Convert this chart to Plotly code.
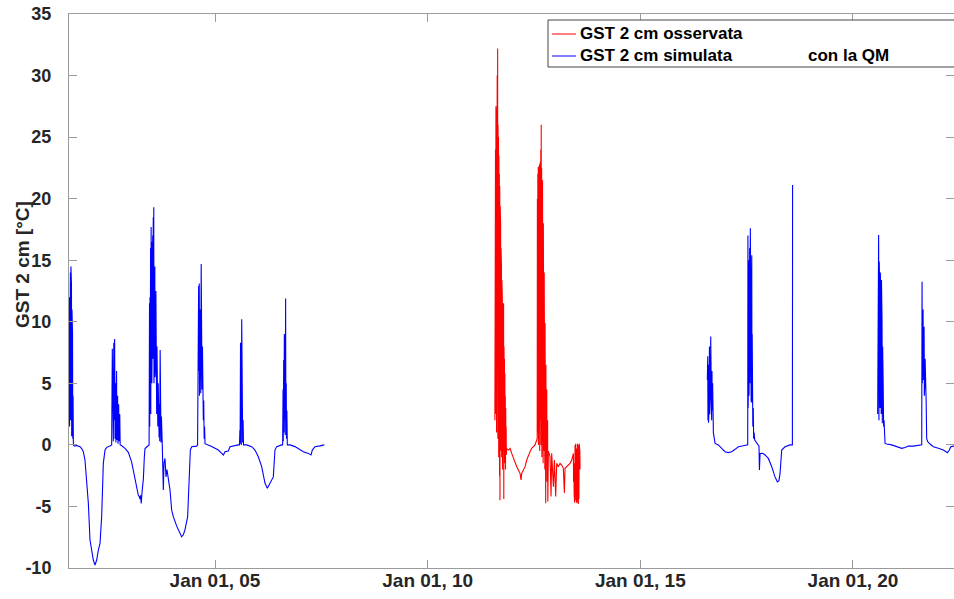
import pandas as pd
import plotly.graph_objects as go

# ---------------- data (hours after midnight of Jan 01, value in °C) ----------------
blue1_h = [1.55, 1.56, 1.565, 1.575, 1.58, 1.587, 1.593, 1.60, 1.605, 1.612, 1.618, 1.625, 1.63, 1.637, 1.643, 1.65, 1.656, 1.663, 1.67,
           1.70, 1.75, 1.79, 1.826, 1.865, 1.904, 1.943, 1.982, 2.022, 2.061, 2.10, 2.139, 2.178, 2.218, 2.257, 2.296, 2.335, 2.374, 2.414, 2.453, 2.531,
           2.57, 2.585, 2.592, 2.60, 2.61, 2.62, 2.63, 2.64, 2.65, 2.66, 2.67, 2.685, 2.695, 2.71, 2.72, 2.735, 2.745, 2.76, 2.77, 2.80,
           2.884, 2.962, 3.04, 3.119, 3.158, 3.197, 3.22, 3.237, 3.25, 3.265, 3.29, 3.315, 3.338, 3.354, 3.40, 3.45,
           3.46, 3.465, 3.472, 3.478, 3.485, 3.49, 3.498, 3.503, 3.51, 3.515, 3.522, 3.527, 3.535, 3.54, 3.548, 3.553, 3.56, 3.565,
           3.572, 3.578, 3.585, 3.59, 3.598, 3.603, 3.61, 3.615, 3.623, 3.628, 3.636, 3.641, 3.65, 3.655, 3.665, 3.67, 3.68, 3.685,
           3.695, 3.70, 3.71, 3.715, 3.725, 3.73, 3.74, 3.75, 3.76,
           3.785, 3.80, 3.824, 3.848, 3.87, 3.90, 3.942, 3.981, 4.02, 4.099, 4.177, 4.216, 4.255, 4.294, 4.357, 4.388, 4.42, 4.451, 4.569,
           4.59, 4.60, 4.605, 4.615, 4.62, 4.63, 4.635, 4.645, 4.65, 4.66, 4.665, 4.675, 4.68, 4.69, 4.695, 4.705, 4.71, 4.72, 4.725,
           4.735, 4.745, 4.755, 4.765,
           4.843, 4.921, 5.0, 5.078, 5.157, 5.196, 5.235, 5.313, 5.353, 5.45, 5.548,
           5.575, 5.585, 5.59, 5.60, 5.605, 5.613, 5.618, 5.628, 5.633, 5.643, 5.65, 5.66, 5.67,
           5.744, 5.862, 5.94, 6.018, 6.097, 6.175, 6.23, 6.293, 6.371, 6.41, 6.45, 6.567,
           6.59, 6.60, 6.605, 6.615, 6.62, 6.63, 6.635, 6.645, 6.65, 6.66, 6.665, 6.675, 6.68, 6.69, 6.70,
           6.763, 6.88, 6.998, 7.076, 7.194, 7.257, 7.288, 7.35, 7.468, 7.57]
blue1_v = [3.0, 8.5, 2.2, 12.0, 1.5, 13.5, 5.0, 14.0, 2.0, 14.5, 8.0, 13.0, 0.7, 11.0, 3.0, 9.0, 0.5, 4.0, 0.0,
           -0.1, -0.05, -0.1, -0.14, -0.3, -0.55, -1.23, -3.1, -4.75, -7.73, -8.54, -9.35, -9.76, -9.35, -8.54, -8.0, -5.83, -1.5, -0.42, -0.2, -0.1,
           0.0, 7.8, 1.0, 7.5, 0.3, 8.3, 2.0, 8.6, 0.5, 5.0, 0.2, 6.0, 0.4, 4.0, 0.1, 3.3, 0.3, 2.5, 0.0, -0.05,
           -0.28, -0.6, -1.4, -2.8, -3.6, -4.1, -4.2, -4.4, -4.1, -4.75, -3.6, -2.8, -1.0, -0.3, -0.15, 0.0,
           11.5, 1.5, 12.0, 4.0, 16.0, 2.5, 17.7, 8.0, 16.5, 5.0, 15.0, 10.4, 17.0, 7.0, 18.5, 12.0, 19.3, 5.0,
           16.0, 9.0, 14.5, 5.5, 13.0, 6.3, 12.5, 3.0, 9.6, 2.5, 8.0, 2.0, 7.7, 1.5, 5.0, 0.8, 4.0, 0.6,
           3.3, 0.3, 7.7, 0.4, 2.5, 0.2, 2.3, 0.0, 0.0,
           -3.67, -1.5, -1.1, -2.6, -2.0, -2.6, -3.67, -5.3, -5.83, -6.6, -7.2, -7.46, -7.3, -6.9, -5.83, -3.1, -0.42, -0.15, -0.1,
           0.0, 9.0, 4.5, 12.9, 6.0, 13.1, 4.0, 11.0, 5.5, 8.3, 4.2, 14.7, 6.0, 12.0, 4.5, 8.0, 3.5, 5.5, 2.0,
           3.6, 0.5, 1.5, 0.1,
           0.0, -0.14, -0.28, -0.42, -0.69, -0.82, -0.55, -0.5, -0.15, -0.05, 0.0,
           0.0, 1.2, 0.1, 8.3, 0.5, 1.2, 0.0, 10.2, 3.0, 4.5, 0.2, 2.0, 0.0,
           0.0, -0.14, -0.42, -0.96, -1.77, -3.1, -3.53, -3.1, -2.6, -0.42, -0.14, 0.0,
           0.0, 4.5, 0.3, 6.9, 1.0, 9.0, 2.0, 8.8, 0.8, 11.9, 3.0, 5.0, 0.5, 2.8, 0.0,
           0.0, -0.14, -0.42, -0.55, -0.69, -0.82, -0.42, -0.15, -0.08, 0.0]

red_h = [11.580, 11.585, 11.590, 11.595, 11.600, 11.605, 11.610, 11.615, 11.620, 11.625, 11.630, 11.635, 11.640, 11.645,
         11.650, 11.655, 11.660, 11.665, 11.670, 11.675, 11.680, 11.685, 11.690, 11.695, 11.700, 11.705, 11.710, 11.715,
         11.720, 11.725, 11.730, 11.735, 11.740, 11.745, 11.750, 11.755, 11.760, 11.765, 11.770, 11.775, 11.780, 11.785,
         11.790, 11.795, 11.800, 11.805, 11.810, 11.815, 11.820, 11.825, 11.830, 11.835, 11.840, 11.845, 11.850, 11.858,
         11.898, 11.937, 11.976, 12.015, 12.054, 12.094, 12.133, 12.172, 12.195, 12.211, 12.25, 12.29, 12.329, 12.368,
         12.407, 12.446, 12.485, 12.525, 12.564,
         12.575, 12.580, 12.585, 12.590, 12.595, 12.600, 12.605, 12.610, 12.615, 12.620, 12.625, 12.630, 12.635, 12.640,
         12.645, 12.650, 12.655, 12.660, 12.665, 12.670, 12.675, 12.680, 12.685, 12.690, 12.695, 12.700, 12.705, 12.710,
         12.715, 12.720, 12.725, 12.730, 12.735, 12.740, 12.745, 12.750, 12.755, 12.760, 12.765, 12.770, 12.775, 12.780,
         12.785, 12.790, 12.795, 12.800, 12.805, 12.810, 12.815, 12.820, 12.825, 12.830, 12.838,
         12.877, 12.901, 12.916, 12.956, 12.979, 13.01, 13.034, 13.073, 13.112, 13.152, 13.19, 13.214, 13.23, 13.269,
         13.308, 13.347, 13.387, 13.426,
         13.430, 13.437, 13.444, 13.451, 13.458, 13.465, 13.472, 13.479, 13.486, 13.493, 13.500, 13.507, 13.514, 13.521,
         13.528, 13.535, 13.542, 13.549, 13.556, 13.563, 13.570, 13.577, 13.583]
red_v = [2.0, 18.0, 4.0, 24.0, 2.5, 27.5, 6.0, 26.0, 1.0, 28.5, 3.0, 30.0, 8.0, 32.2,
         0.5, 26.0, 2.0, 25.0, -1.0, 23.5, 4.0, 22.0, -2.5, 21.0, -4.5, 19.4, 1.0, 18.0,
         -0.5, 16.0, 3.0, 14.5, -1.0, 13.4, 0.5, 12.0, -2.0, 11.5, 1.0, 10.5, -0.5, 11.5,
         -4.4, 8.0, 0.0, 7.0, -1.5, 5.8, -0.5, 4.0, -2.0, 3.0, -0.5, 1.5, -0.8, -0.3,
         -0.42, -0.28, -0.69, -1.09, -1.5, -1.77, -2.04, -2.31, -2.85, -2.31, -2.04, -1.77, -1.23, -0.82,
         -0.55, -0.28, -0.15, 0.0, 0.4,
         0.5, 20.0, 1.0, 22.0, 3.0, 22.6, 0.0, 21.5, 5.0, 22.0, 1.5, 22.8, -0.5, 22.0,
         6.0, 23.0, 2.0, 24.0, 0.0, 26.0, 3.0, 22.5, -1.0, 22.0, 4.0, 21.5, 0.5, 21.0,
         -1.5, 18.0, 2.0, 16.6, -0.5, 14.0, 1.0, 12.0, -2.0, 9.9, 0.0, 8.0, -4.75, 6.5,
         -1.0, 5.5, -0.5, 4.5, -3.0, 3.0, -1.0, 2.0, -4.6, 1.0, -0.5,
         -0.96, -4.2, -0.69, -3.4, -1.23, -4.2, -1.5, -1.77, -1.5, -1.64, -1.9, -3.9, -1.9, -1.77,
         -1.64, -1.5, -1.23, -0.69,
         -3.0, -1.5, -4.0, -0.5, -4.7, 0.0, -3.5, 0.1, -4.5, -0.3, -4.7, 0.0, -4.2, 0.1,
         -4.6, -0.2, -4.8, 0.0, -4.4, 0.1, -4.0, -0.5, -2.0]

blue2_h = [16.575, 16.58, 16.585, 16.59, 16.597, 16.603, 16.61, 16.617, 16.625, 16.632, 16.64, 16.647, 16.655, 16.662,
           16.67, 16.677, 16.685, 16.692, 16.70, 16.71, 16.717,
           16.757, 16.835, 16.913, 16.992, 17.07, 17.149, 17.227, 17.305, 17.423, 17.50,
           17.525, 17.53, 17.535, 17.54, 17.545, 17.55, 17.555, 17.56, 17.565, 17.57, 17.575, 17.58, 17.587, 17.593,
           17.60, 17.605, 17.61, 17.615, 17.62, 17.625, 17.63, 17.635, 17.64, 17.645, 17.655, 17.665, 17.675, 17.69,
           17.736, 17.79, 17.80, 17.805, 17.81, 17.815, 17.877, 17.932, 18.01, 18.089, 18.167, 18.222, 18.26, 18.285,
           18.324, 18.402, 18.52, 18.575, 18.58]
blue2_v = [5.3, 3.0, 7.2, 2.0, 6.5, 1.8, 6.0, 3.0, 8.0, 2.5, 5.5, 4.0, 8.8, 3.0,
           6.5, 2.0, 6.0, 2.8, 5.0, 2.8, 1.0,
           0.12, 0.0, -0.28, -0.55, -0.63, -0.55, -0.36, -0.15, -0.07, -0.05,
           0.0, 17.0, 3.0, 12.0, 6.0, 15.0, 4.0, 13.0, 8.0, 16.0, 5.0, 14.0, 17.6, 7.0,
           12.0, 3.5, 11.0, 5.0, 15.4, 3.4, 9.0, 5.0, 8.0, 1.5, 3.0, 0.5, 1.0, 0.4,
           0.12, -0.1, -2.04, -0.8, -2.0, -0.7, -0.69, -0.82, -1.1, -1.77, -2.6, -3.0, -2.9, -2.3,
           -0.42, -0.15, 0.0, 0.0, 21.1]

blue3_h = [20.58, 20.585, 20.59, 20.597, 20.603, 20.61, 20.617, 20.623, 20.63, 20.637, 20.643, 20.65, 20.657, 20.663,
           20.67, 20.677, 20.683, 20.69, 20.697, 20.703, 20.71, 20.72, 20.73,
           20.754, 20.793, 20.91, 21.028, 21.146, 21.224, 21.302, 21.42, 21.537, 21.616,
           21.624, 21.63, 21.636, 21.642, 21.648, 21.654, 21.66, 21.666, 21.672, 21.678, 21.684, 21.69, 21.696, 21.703,
           21.71, 21.72, 21.733,
           21.757, 21.812, 21.89, 22.008, 22.125, 22.22, 22.266, 22.30, 22.36, 22.5]
blue3_v = [2.5, 12.0, 4.0, 15.0, 17.05, 2.0, 14.9, 5.0, 12.0, 3.0, 14.0, 6.0, 11.0, 2.5,
           13.4, 4.0, 10.0, 1.75, 8.0, 3.0, 5.0, 1.5, 2.0,
           0.12, 0.07, 0.0, -0.15, -0.28, -0.22, -0.1, -0.1, -0.05, 0.0,
           13.26, 5.0, 12.0, 7.0, 11.0, 5.27, 10.14, 6.0, 9.6, 4.0, 8.0, 5.0, 7.0, 3.6,
           5.5, 3.6, 0.5,
           0.26, 0.07, -0.15, -0.28, -0.42, -0.63, -0.42, -0.15, -0.1, -0.05]

tick_hours = [5, 10, 15, 20]
tick_labels = ["Jan 01, 05", "Jan 01, 10", "Jan 01, 15", "Jan 01, 20"]
y_ticks = [-10, -5, 0, 5, 10, 15, 20, 25, 30, 35]
y_tick_labels = ["-10", "-5", "0", "5", "10", "15", "20", "25", "30", "35"]

series_names = ["GST 2 cm osservata", "GST 2 cm simulata"]
legend_suffix = "con la QM"

# ---------------- build ----------------
base = pd.Timestamp("2021-01-01")


def to_t(hours):
    return [base + pd.to_timedelta(h, unit="h") for h in hours]


blue_x = to_t(blue1_h) + [None] + to_t(blue2_h) + [None] + to_t(blue3_h)
blue_y = blue1_v + [None] + blue2_v + [None] + blue3_v

FONT = "Liberation Sans, Arial, Helvetica, sans-serif"
AX = "#9b9b9b"
TXT = "#262626"
RED = "rgb(255,0,0)"
BLUE = "rgb(0,0,255)"

W, H = 954, 599
L, R, T, B = 69, 954, 14, 568
PW, PH = R - L, B - T


def px(xs):
    return (xs - L) / PW


def py(ys):
    return (B - ys) / PH


fig = go.Figure()
fig.add_trace(go.Scatter(x=to_t(red_h), y=red_v, mode="lines", name=series_names[0],
                         line=dict(color=RED, width=1.1), showlegend=False))
fig.add_trace(go.Scatter(x=blue_x, y=blue_y, mode="lines", connectgaps=False, name=series_names[1],
                         line=dict(color=BLUE, width=1.1), showlegend=False))

# legend drawn as a box (matching the reference's compact MATLAB legend)
shapes = [
    dict(type="rect", xref="paper", yref="paper", x0=px(548), x1=px(975), y0=py(67), y1=py(20),
         line=dict(color="#444444", width=1), fillcolor="white", layer="above"),
    dict(type="line", xref="paper", yref="paper", x0=px(552), x1=px(576), y0=py(34), y1=py(34),
         line=dict(color=RED, width=1), layer="above"),
    dict(type="line", xref="paper", yref="paper", x0=px(552), x1=px(576), y0=py(56), y1=py(56),
         line=dict(color=BLUE, width=1), layer="above"),
]
leg_font = dict(family=FONT, size=17, color="black", weight="bold")
annotations = [
    dict(text=series_names[0], xref="paper", yref="paper", x=px(578), y=py(34), xanchor="left", yanchor="middle",
         showarrow=False, font=leg_font),
    dict(text=series_names[1], xref="paper", yref="paper", x=px(578), y=py(56), xanchor="left", yanchor="middle",
         showarrow=False, font=leg_font),
    dict(text=legend_suffix, xref="paper", yref="paper", x=px(806), y=py(56), xanchor="left", yanchor="middle",
         showarrow=False, font=leg_font),
    dict(text="GST 2 cm [°C]", xref="paper", yref="paper", x=px(22), y=py(265), textangle=-90, showarrow=False,
         xanchor="center", yanchor="middle", font=dict(family=FONT, size=19, color=TXT, weight="bold")),
]

fig.update_layout(
    width=W, height=H,
    margin=dict(l=L, r=W - R, t=T, b=H - B, pad=0, autoexpand=False),
    paper_bgcolor="white", plot_bgcolor="white",
    font=dict(family=FONT, size=18, color=TXT),
    showlegend=False,
    hovermode=False,
    xaxis=dict(type="date",
               range=[base + pd.to_timedelta(1.567, unit="h"), base + pd.to_timedelta(22.375, unit="h")],
               tickvals=to_t(tick_hours), ticktext=tick_labels,
               ticks="inside", ticklen=8, tickcolor=AX, tickwidth=1,
               showline=True, linecolor=AX, linewidth=1, mirror="ticks",
               showgrid=False, zeroline=False, automargin=False, ticklabelstandoff=-5,
               tickfont=dict(family=FONT, size=19, color=TXT, weight="bold")),
    yaxis=dict(range=[-10, 35], tickvals=y_ticks, ticktext=y_tick_labels,
               ticks="inside", ticklen=8, tickcolor=AX, tickwidth=1,
               showline=True, linecolor=AX, linewidth=1, mirror="ticks",
               showgrid=False, zeroline=False, ticklabelstandoff=13, automargin=False,
               ticklabeloverflow="allow",
               tickfont=dict(family=FONT, size=18, color=TXT, weight="bold")),
    shapes=shapes,
    annotations=annotations,
)

post = ("document.body.style.margin='0';document.body.style.padding='0';"
        "document.body.style.overflow='hidden';"
        "var gd=document.getElementById('{plot_id}');"
        "return Plotly.relayout(gd,{width:954,height:599});")
fig.write_html("out.html", post_script=post, config={"displayModeBar": False, "staticPlot": True})
